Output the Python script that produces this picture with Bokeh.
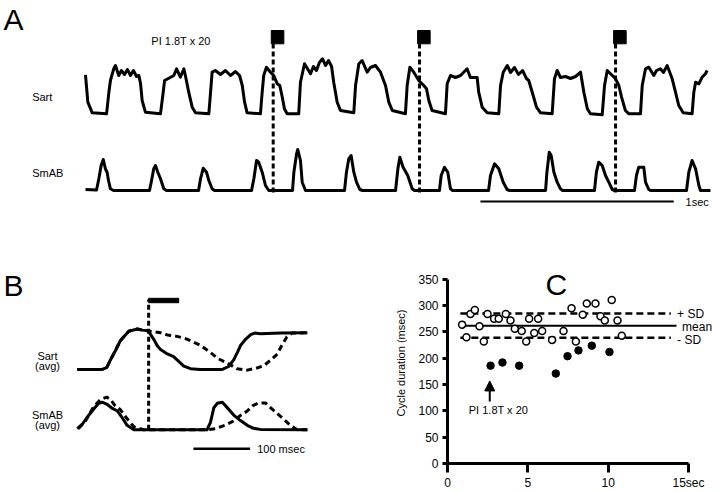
from bokeh.plotting import figure
from bokeh.layouts import column, row
from bokeh.models import Range1d, Arrow, NormalHead, FixedTicker
from bokeh.core.properties import value
from bokeh.embed import file_html
from bokeh.resources import INLINE

FONT = "Liberation Sans"

# ---------------- Panel A : raw traces (time in ms, amplitude in a.u.) ----------------
sart_t = [0, 12, 35, 109, 121, 129, 146, 155, 172, 186, 202, 217, 233, 248, 264, 276, 285, 293, 310, 388,
          402, 409, 431, 457, 471, 491, 509, 522, 534, 552, 569, 638,
          647, 655, 672, 698, 724, 750, 776, 797, 811, 823, 836, 905,
          914, 922, 936, 957, 974, 992, 1005, 1018, 1029, 1043, 1103,
          1112, 1133, 1164, 1179, 1195, 1210, 1226, 1242, 1257, 1273, 1284, 1302, 1319, 1388,
          1397, 1414, 1431, 1457, 1474, 1500, 1526, 1552, 1569, 1587, 1655,
          1664, 1678, 1698, 1724, 1750, 1764, 1776, 1793, 1862,
          1871, 1888, 1914, 1940, 1974, 1991, 2026, 2034, 2052, 2078, 2138,
          2147, 2161, 2182, 2199, 2219, 2240, 2261, 2281, 2293, 2311, 2333, 2354, 2414,
          2426, 2440, 2457, 2483, 2509, 2535, 2561, 2578, 2596, 2612, 2673,
          2685, 2699, 2716, 2742, 2759, 2773, 2793, 2811, 2871,
          2880, 2897, 2914, 2940, 2954, 2974, 2990, 3009, 3035, 3052, 3069, 3092, 3138,
          3147, 3156, 3173, 3190, 3207, 3216]
sart_v = [3.9, 1.16, 0.1, 0, 2.16, 3.33, 4.5, 4.83, 3.83, 4.33, 3.93, 4.43, 3.83, 4.33, 3.73, 3.83, 3.0, 1.33, 0.16, 0,
          2.16, 3.33, 3.56, 3.83, 4.5, 3.66, 4.5, 3.33, 2.16, 0.66, 0.1, 0,
          2.16, 4.16, 4.33, 3.93, 4.33, 3.83, 4.23, 3.83, 2.83, 1.16, 0.1, 0,
          2.16, 3.83, 4.66, 4.16, 3.83, 3.0, 2.83, 1.66, 0.5, 0, 0,
          3.16, 5.0, 4.0, 4.73, 4.33, 5.13, 5.5, 4.83, 5.33, 4.73, 3.16, 1.16, 0.33, 0.1,
          2.83, 5.0, 5.33, 4.16, 4.63, 4.83, 4.16, 2.83, 1.16, 0.33, 0,
          2.83, 4.66, 4.16, 3.33, 2.83, 2.5, 1.33, 0.33, 0,
          3.0, 3.83, 3.63, 3.83, 4.5, 3.63, 3.63, 2.16, 0.66, 0.1, 0,
          2.83, 4.16, 4.83, 4.13, 4.63, 3.93, 4.33, 3.53, 3.33, 2.16, 0.66, 0.1, 0,
          3.5, 4.33, 3.63, 3.73, 3.53, 3.73, 4.16, 2.16, 0.5, 0, -0.1,
          2.83, 4.33, 4.0, 3.5, 2.83, 1.66, 0.33, 0, 0,
          2.83, 4.5, 4.66, 3.83, 4.33, 4.5, 4.13, 4.83, 3.5, 2.16, 0.83, 0.1, 0,
          2.16, 3.16, 3.0, 3.66, 4.0, 4.33]

smab_t = [0, 57, 69, 81, 92, 103, 112, 119, 129, 145,
          331, 340, 353, 362, 374, 388, 405, 419,
          585, 595, 609, 626, 638, 655, 667,
          859, 871, 885, 896, 914, 931, 948,
          1071, 1078, 1092, 1098, 1112, 1121, 1138,
          1340, 1350, 1362, 1374, 1388, 1402, 1419, 1433,
          1604, 1616, 1626, 1643, 1667, 1690, 1702,
          1831, 1840, 1857, 1874, 1888, 1899,
          2085, 2095, 2116, 2138, 2161, 2181, 2193,
          2380, 2387, 2399, 2409, 2423, 2440, 2457, 2468,
          2633, 2643, 2655, 2673, 2690, 2707, 2725, 2737,
          2840, 2850, 2862, 2888, 2897, 2914, 2923,
          3109, 3121, 3138, 3156, 3173, 3181, 3233]
smab_v = [0.1, 0.05, 1.17, 2.5, 3.1, 2.17, 1.8, 1.0, 0.17, 0,
          0, 0.83, 2.17, 2.5, 1.83, 1.17, 0.17, 0,
          0, 1.17, 2.23, 1.83, 1.0, 0.17, 0,
          0, 1.17, 3.0, 2.83, 1.83, 0.5, 0,
          0, 1.83, 3.67, 4.1, 3.0, 0.83, 0,
          0, 1.83, 3.17, 3.5, 1.83, 0.83, 0.1, 0,
          0, 2.17, 3.33, 2.33, 1.5, 0.17, 0,
          0, 1.5, 2.33, 1.83, 0.17, 0,
          0, 1.5, 2.67, 2.17, 0.83, 0.1, 0,
          0, 1.83, 3.83, 3.5, 1.83, 0.83, 0.17, 0,
          0, 1.83, 2.83, 2.5, 1.5, 0.83, 0.1, 0,
          0, 1.5, 2.33, 2.33, 0.83, 0.1, 0,
          0, 1.83, 3.0, 2.17, 0.5, 0, 0]

stim_onsets_ms = [971, 1728, 2742]
stim_train_ms = 65
scale_a_start_ms = 2043
scale_a_len_ms = 1000
stim_label = "PI 1.8T x 20"

# ---------------- Panel B : averaged traces (ms, normalised amplitude) ----------------
b_sart_ctrl_t = [0, 44, 52, 59, 68, 76, 85, 91, 106, 115, 125, 147, 159, 176, 191, 206, 217, 235, 249, 265,
                 282, 300, 317, 329, 341, 353, 360, 370, 379, 406]
b_sart_ctrl_v = [0, 0, 0.05, 0.27, 0.53, 0.78, 0.94, 1.04, 1.10, 1.07, 1.05, 1.0, 0.94, 0.90, 0.84, 0.74, 0.66, 0.46, 0.29, 0.17,
                 0.02, -0.02, 0.04, 0.10, 0.25, 0.42, 0.63, 0.89, 0.99, 1.0]
b_sart_stim_t = [0, 44, 52, 59, 68, 76, 85, 91, 106, 115, 125, 129, 135, 141, 147, 157, 170, 179, 188, 200,
                 217, 256, 267, 276, 283, 288, 297, 306, 313, 323, 359, 406]
b_sart_stim_v = [0, 0, 0.05, 0.27, 0.53, 0.78, 0.94, 1.04, 1.10, 1.07, 1.05, 0.96, 0.82, 0.65, 0.54, 0.44, 0.35, 0.22, 0.09, 0.02,
                 0, 0, 0.08, 0.26, 0.48, 0.65, 0.82, 0.95, 0.99, 0.97, 0.99, 1.0]
b_smab_stim_t = [0, 9, 20, 31, 38, 44, 52, 62, 71, 78, 88, 100, 229, 235, 241, 247, 256, 263, 276, 288,
                 300, 311, 323, 406]
b_smab_stim_v = [0.03, 0.15, 0.39, 0.60, 0.72, 0.75, 0.70, 0.58, 0.51, 0.36, 0.12, 0, 0, 0.20, 0.60, 0.72, 0.75, 0.63, 0.40, 0.25,
                 0.12, 0.04, 0.01, 0]
b_smab_ctrl_t = [2, 15, 29, 41, 52, 59, 67, 76, 87, 100, 117, 229, 244, 262, 276, 288, 300, 309, 320, 332,
                 341, 353, 364, 376, 388, 406]
b_smab_ctrl_v = [0.03, 0.25, 0.63, 0.82, 0.89, 0.82, 0.65, 0.55, 0.32, 0.08, 0, 0, 0.03, 0.13, 0.24, 0.39, 0.51, 0.65, 0.73, 0.73,
                 0.60, 0.44, 0.29, 0.12, 0, 0]
b_stim_onset_ms = 126
b_stim_dur_ms = 53
b_scale_start_ms = 205
b_scale_len_ms = 100

# ---------------- Panel C : cycle durations ----------------
open_t = [0.91, 1.18, 1.43, 1.70, 1.99, 2.26, 2.49, 2.90, 3.19, 3.63, 3.92, 4.19, 4.62, 4.90, 5.08,
          5.40, 5.64, 5.89, 6.51, 7.22, 7.72, 7.99, 8.42, 8.67, 9.21, 9.52, 9.79, 10.22, 10.58, 10.85]
open_ms = [264, 240, 284, 292, 261, 232, 284, 275, 275, 284, 272, 256, 252, 232, 275,
           248, 275, 252, 235, 252, 295, 232, 283, 304, 304, 280, 272, 311, 272, 243]
filled_t = [2.68, 3.42, 4.46, 6.74, 7.47, 8.15, 8.98, 10.08]
filled_ms = [186, 192, 186, 171, 204, 215, 224, 212]
mean_ms = 262
sd_ms = 23
c_xticks = [0, 5, 10, 15]
c_yticks = [0, 50, 100, 150, 200, 250, 300, 350]
arrow_t = 2.63


def txt(p, x, y, s, size="11px", align="left", baseline="middle"):
    p.text(x=[x], y=[y], text=[s], text_font=value(FONT), text_font_size=value(size),
           text_align=align, text_baseline=baseline, text_color="black")


def bare(width, height, xr, yr):
    p = figure(width=width, height=height, x_range=Range1d(*xr), y_range=Range1d(*yr),
               output_backend="svg", toolbar_location=None, min_border=0,
               x_axis_location=None, y_axis_location=None, outline_line_color=None,
               background_fill_color="white", border_fill_color="white")
    p.grid.visible = False
    return p


# ---- A ----
pa = bare(720, 262, (-439.7, 3284.9), (-7.2, 19.0))
SART_OFF_A = 7.67
pa.line(sart_t, [v + SART_OFF_A for v in sart_v], line_width=3, color="black", line_join="round")
pa.line(smab_t, smab_v, line_width=3, color="black", line_join="round")
n = len(stim_onsets_ms)
pa.segment(x0=stim_onsets_ms, y0=[-0.2] * n, x1=stim_onsets_ms, y1=[14.7] * n,
           line_dash="5 3", line_width=3, color="black")
pa.quad(left=[t - 10 for t in stim_onsets_ms], right=[t - 10 + stim_train_ms for t in stim_onsets_ms],
        bottom=[14.67] * n, top=[16.0] * n, color="black")
pa.segment(x0=[scale_a_start_ms], y0=[-1.1], x1=[scale_a_start_ms + scale_a_len_ms], y1=[-1.1],
           line_width=2, color="black")
txt(pa, 3104, -1.1, "1sec")
txt(pa, -276, 9.33, "Sart")
txt(pa, -276, 1.8, "SmAB")
txt(pa, 494, 15.0, stim_label, align="center")
txt(pa, -424, 17.1, "A", size="30px")

# ---- B ----
pb = bare(360, 230, (-135.3, 499.7), (-0.919, 4.555))
SART_OFF_B = 1.643
pb.line(b_sart_ctrl_t, [v + SART_OFF_B for v in b_sart_ctrl_v], line_width=3, color="black",
        line_dash="6 4")
pb.line(b_sart_stim_t, [v + SART_OFF_B for v in b_sart_stim_v], line_width=3, color="black",
        line_join="round")
pb.line(b_smab_ctrl_t, b_smab_ctrl_v, line_width=3, color="black", line_dash="6 4")
pb.line(b_smab_stim_t, b_smab_stim_v, line_width=3, color="black", line_join="round")
pb.segment(x0=[b_stim_onset_ms], y0=[0], x1=[b_stim_onset_ms], y1=[3.55],
           line_dash="5 3", line_width=3, color="black")
pb.quad(left=[b_stim_onset_ms], right=[b_stim_onset_ms + b_stim_dur_ms], bottom=[3.46], top=[3.58],
        color="black")
pb.segment(x0=[b_scale_start_ms], y0=[-0.517], x1=[b_scale_start_ms + b_scale_len_ms], y1=[-0.517],
           line_width=2.5, color="black")
txt(pb, 317.5, -0.517, "100 msec")
txt(pb, -52.4, 2.007, "Sart", align="center")
txt(pb, -52.4, 1.733, "(avg)", align="center")
txt(pb, -52.4, 0.395, "SmAB", align="center")
txt(pb, -52.4, 0.126, "(avg)", align="center")
txt(pb, -130, 3.936, "B", size="30px")

# ---- C ----
pc = figure(width=360, height=230, x_range=Range1d(0, 16.99), y_range=Range1d(0, 382.1),
            output_backend="svg", toolbar_location=None, outline_line_color=None,
            background_fill_color="white", border_fill_color="white")
pc.min_border_left = 87
pc.min_border_right = 0
pc.min_border_top = 0
pc.min_border_bottom = 28
pc.grid.visible = False
pc.xaxis.ticker = FixedTicker(ticks=c_xticks)
pc.yaxis.ticker = FixedTicker(ticks=c_yticks)
pc.xaxis.major_label_overrides = {15: "15sec"}
pc.xaxis.bounds = (0, 15)
pc.yaxis.bounds = (0, 350)
pc.axis.axis_line_width = 3
pc.axis.axis_line_color = "black"
pc.axis.major_tick_line_width = 3
pc.axis.major_tick_line_color = "black"
pc.axis.minor_tick_line_color = None
pc.axis.major_tick_in = 0
pc.xaxis.major_tick_out = 9
pc.yaxis.major_tick_out = 5
pc.xaxis.major_label_standoff = 3
pc.yaxis.major_label_standoff = 4
pc.axis.major_label_text_font = FONT
pc.axis.major_label_text_font_size = "12px"
pc.axis.major_label_text_color = "black"
pc.yaxis.axis_label = "Cycle duration (msec)"
pc.yaxis.axis_label_text_font = FONT
pc.yaxis.axis_label_text_font_style = "normal"
pc.yaxis.axis_label_text_font_size = "11px"
pc.yaxis.axis_label_text_color = "black"
pc.yaxis.axis_label_standoff = 8

pc.line([0.75, 14.25], [mean_ms, mean_ms], line_width=2, color="black")
pc.line([0.8, 13.9], [mean_ms + sd_ms, mean_ms + sd_ms], line_width=2.5, color="black", line_dash="7 4")
pc.line([0.8, 13.9], [mean_ms - sd_ms, mean_ms - sd_ms], line_width=2.5, color="black", line_dash="7 4")
pc.scatter(open_t, open_ms, marker="circle", size=7, fill_color="white", line_color="black", line_width=1.5)
pc.scatter(filled_t, filled_ms, marker="circle", size=7.5, fill_color="black", line_color="black")
txt(pc, 14.29, mean_ms + sd_ms, "+ SD", size="12px")
txt(pc, 14.6, mean_ms - 2.5, "mean", size="12px")
txt(pc, 14.29, mean_ms - sd_ms - 5, "- SD", size="12px")
pc.add_layout(Arrow(end=NormalHead(size=10, fill_color="black", line_color="black"),
                    x_start=arrow_t, y_start=118, x_end=arrow_t, y_end=157,
                    line_width=2, line_color="black"))
txt(pc, 3.17, 101, stim_label, align="center")
txt(pc, 6.1, 339.6, "C", size="30px")

layout = column(pa, row(pb, pc))
open("out.html", "w").write(file_html(layout, INLINE))
